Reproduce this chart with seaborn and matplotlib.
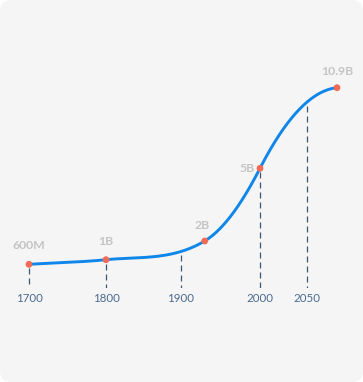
import numpy as np
import pandas as pd
import matplotlib
matplotlib.use("Agg")
import matplotlib.pyplot as plt
import seaborn as sns
from matplotlib.patches import FancyBboxPatch
from matplotlib.transforms import IdentityTransform

# ---------------- data ----------------
years = [1700, 1800, 1930, 2000, 2100]
population = [0.6, 1.0, 2.0, 5.0, 10.9]          # billions
labels = ["600M", "1B", "2B", "5B", "10.9B"]
tick_years = [1700, 1800, 1900, 2000, 2050]
tick_labels = ["1700", "1800", "1900", "2000", "2050"]

# ---------------- layout / style ----------------
# stylised (non-uniform) axes of the infographic: knot -> scale space
X_KNOTS_YR = [1700, 1800, 1900, 2000, 2050, 2100]
X_KNOTS_S = [29, 106, 181, 260, 307, 337]
Y_KNOTS_POP = [0.6, 1.0, 2.0, 5.0, 10.9]
Y_KNOTS_S = [0.0, 4.6, 23.3, 96.0, 176.6]
TANGENTS = [0.06, 0.1, 0.6, 1.95, 0.1]          # curve tension (scale space)
X_RANGE_S = (0, 363)
Y_RANGE_S = (-23.7, 264.3)

LINE_C = "#0f86ea"
DOT_C = "#f26a55"
VAL_C = "#c4c4c4"
TICK_C = "#4a6a8e"
DASH_C = "#3d5674"
CARD_C = "#f5f5f5"

LABEL_OFFSETS = {  # points
    "600M": (0, 9.5, "center", "bottom"),
    "1B": (0, 9.5, "center", "bottom"),
    "2B": (-1.5, 7, "center", "bottom"),
    "5B": (-3.6, 0, "right", "center"),
    "10.9B": (0, 7.5, "center", "bottom"),
}


def pw(v, xp, fp):
    v = np.asarray(v, dtype=float)
    out = np.interp(v, xp, fp)
    lo_slope = (fp[1] - fp[0]) / (xp[1] - xp[0])
    hi_slope = (fp[-1] - fp[-2]) / (xp[-1] - xp[-2])
    out = np.where(v < xp[0], fp[0] + (v - xp[0]) * lo_slope, out)
    out = np.where(v > xp[-1], fp[-1] + (v - xp[-1]) * hi_slope, out)
    return out


fx = lambda v: pw(v, X_KNOTS_YR, X_KNOTS_S)
ix = lambda v: pw(v, X_KNOTS_S, X_KNOTS_YR)
fy = lambda v: pw(v, Y_KNOTS_POP, Y_KNOTS_S)
iy = lambda v: pw(v, Y_KNOTS_S, Y_KNOTS_POP)

# smooth curve through the data points (cubic Hermite in scale space)
xs = fx(years)
ys = fy(population)
cx, cy = [], []
for i in range(len(xs) - 1):
    h = xs[i + 1] - xs[i]
    t = np.linspace(0, 1, 80)
    h00 = 2 * t**3 - 3 * t**2 + 1
    h10 = t**3 - 2 * t**2 + t
    h01 = -2 * t**3 + 3 * t**2
    h11 = t**3 - t**2
    cx.append(xs[i] + t * h)
    cy.append(h00 * ys[i] + h10 * h * TANGENTS[i] + h01 * ys[i + 1] + h11 * h * TANGENTS[i + 1])
cx = np.concatenate(cx)
cy = np.concatenate(cy)
curve = pd.DataFrame({"year": ix(cx), "pop": iy(cy)})
points = pd.DataFrame({"year": years, "pop": population, "label": labels})

# ---------------- figure ----------------
sns.set_theme(style="white")
plt.rcParams["font.family"] = ["Lato", "DejaVu Sans"]

fig = plt.figure(figsize=(3.63, 3.82), dpi=100, facecolor="white")
card = FancyBboxPatch((0, 0), 363, 382, boxstyle="round,pad=0,rounding_size=11",
                      transform=IdentityTransform(), facecolor=CARD_C,
                      edgecolor="none", zorder=-10)
fig.add_artist(card)

ax = fig.add_axes([0, 94 / 382, 1, 288 / 382])
ax.set_facecolor("none")

sns.lineplot(data=curve, x="year", y="pop", sort=False, estimator=None,
             color=LINE_C, linewidth=2.1, ax=ax, zorder=3)
sns.scatterplot(data=points, x="year", y="pop", color=DOT_C, s=24,
                edgecolor="none", ax=ax, zorder=4)

ax.set_xscale("function", functions=(fx, ix))
ax.set_yscale("function", functions=(fy, iy))
ax.set_xlim(ix(X_RANGE_S[0]), ix(X_RANGE_S[1]))
ylim = (float(iy(Y_RANGE_S[0])), float(iy(Y_RANGE_S[1])))
ax.set_ylim(*ylim)

# dashed drop lines from the curve down to the year labels
tops = iy(np.interp(fx(tick_years), cx, cy))
for yr, top in zip(tick_years, tops):
    ax.plot([yr, yr], [top, ylim[0]], color=DASH_C, linewidth=0.9,
            linestyle=(4.8, (4.8, 3.2)), zorder=2)

for _, r in points.iterrows():
    dx, dy, ha, va = LABEL_OFFSETS[r["label"]]
    ax.annotate(r["label"], (r["year"], r["pop"]), xytext=(dx, dy),
                textcoords="offset points", ha=ha, va=va, color=VAL_C,
                fontsize=8.8, fontweight="bold")

ax.set_xticks(tick_years)
ax.set_xticklabels(tick_labels)
ax.set_yticks([])
ax.tick_params(axis="x", length=0, pad=3.4, labelsize=8.3, labelcolor=TICK_C)
ax.set_xlabel("")
ax.set_ylabel("")
for s in ax.spines.values():
    s.set_visible(False)
leg = ax.get_legend()
if leg:
    leg.remove()

fig.savefig("out.png", dpi=100, facecolor="white")
